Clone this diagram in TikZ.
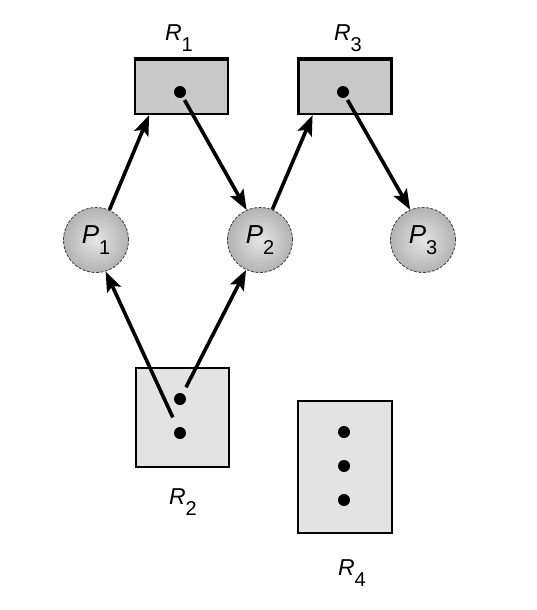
\documentclass[tikz,border=0pt]{standalone}
\usepackage{fontspec}
\setmainfont{Liberation Sans}
\usetikzlibrary{arrows.meta,calc}
\newcommand{\rlab}[1]{{\fontsize{23}{25}\selectfont\itshape R}\raisebox{-11pt}{\fontsize{20}{22}\selectfont #1}}
\newcommand{\plab}[1]{{\fontsize{26}{28}\selectfont\itshape P}\raisebox{-11pt}{\fontsize{20}{22}\selectfont #1}}
\begin{document}
\begin{tikzpicture}[x=1pt,y=-1pt,
  resA/.style={draw=black,line width=2.3pt,fill=gray!42,minimum width=93pt,minimum height=54pt,inner sep=0pt},
  resB/.style={draw=black,line width=2pt,fill=gray!22,inner sep=0pt},
  proc/.style={circle,minimum size=65pt,inner sep=0pt,draw=black!75,line width=0.8pt,dash pattern=on 3pt off 1.5pt,inner color=gray!20,outer color=gray!60},
  dotn/.style={circle,fill=black,minimum size=12pt,inner sep=0pt},
  lbl/.style={inner sep=0pt},
  edge/.style={line width=3.6pt,-{Stealth[length=20pt,width=15pt,inset=4pt]}}
]
\useasboundingbox (0,0) rectangle (536,610);
% resources
\node[resA] (R1) at (181.5,87) {};
\draw[line width=4pt] (R1.north west) -- (R1.north east);
\node[resA] (R3) at (345,87) {};
\draw[line width=4pt] (R3.north west) -- (R3.north east);
\node[resB,minimum width=93pt,minimum height=99pt] (R2) at (182,417) {};
\node[resB,minimum width=94pt,minimum height=132pt] (R4) at (345,467) {};
% dots
\node[dotn] (d1) at (180,92) {};
\node[dotn] (d3) at (343,92) {};
\node[dotn] (d2a) at (180,399) {};
\node[dotn] (d2b) at (180,433) {};
\node[dotn] (d4a) at (344,432) {};
\node[dotn] (d4b) at (344,466) {};
\node[dotn] (d4c) at (344,500) {};
% labels
\node[lbl] (L1) at (179,38.5) {\rlab{1}};
\node[lbl] (L3) at (348,38.5) {\rlab{3}};
\node[lbl] (L2) at (183,502) {\rlab{2}};
\node[lbl] (L4) at (352,573.5) {\rlab{4}};
% processes
\node[proc] (P1) at (96,240) {\plab{1}};
\node[proc] (P2) at (260,240) {\plab{2}};
\node[proc] (P3) at (423,240) {\plab{3}};
% edges
\draw[edge] (P1.66) -- ($(R1.south west)!0.16!(R1.south east)$);
\draw[edge,shorten <=3pt] (d1) -- (P2.114);
\draw[edge] (P2.68) -- ($(R3.south west)!0.16!(R3.south east)$);
\draw[edge,shorten <=3pt] (d3) -- (P3.113);
\draw[edge,shorten <=11pt] (d2b) -- (P1.287);
\draw[edge,shorten <=7pt] (d2a) -- (P2.245);
\end{tikzpicture}
\end{document}
